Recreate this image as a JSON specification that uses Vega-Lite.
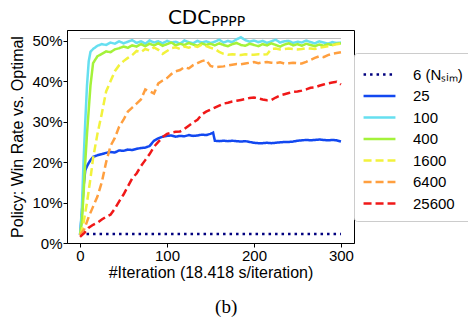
{
 "$schema": "https://vega.github.io/schema/vega-lite/v6.json",
 "autosize": {"type": "none"},
 "padding": {"left": 67, "top": 30, "right": 114, "bottom": 79},
 "width": 287,
 "height": 213,
 "background": "white",
 "config": {
  "view": {"stroke": "black", "strokeWidth": 1},
  "axis": {"grid": false, "labelFont": "Liberation Sans", "labelFontSize": 15, "labelColor": "black", "titleFont": "Liberation Sans", "titleFontSize": 16, "titleFontWeight": "normal", "titleColor": "black", "tickColor": "black", "domainColor": "black", "tickSize": 4, "labelPadding": 1},
  "legend": {"title": null, "orient": "none", "legendX": 287, "legendY": 23, "symbolType": "M-1.45,0H1.45", "symbolSize": 484, "symbolStrokeWidth": 2.5, "labelFont": "Liberation Sans", "labelFontSize": 15, "labelColor": "black", "labelOffset": 21, "symbolOffset": 4, "padding": 9, "rowPadding": 0.5, "strokeColor": "#cccccc", "fillColor": "white", "cornerRadius": 3}
 },
 "datasets": {
  "ref": [{"y": 50.6, "x0": 0, "x1": 300}],
  "ttl": [{"t": "CDC", "x": 101, "y": 54.2}],
  "sub": [{"t": "PPPP", "x": 151, "y": 53.8}],
  "cap": [{"t": "(b)", "x": 168, "y": -17.3}],
  "runs": [
   {"s":"6","i":0,"v":2.2},{"s":"6","i":50,"v":2.2},{"s":"6","i":100,"v":2.2},{"s":"6","i":150,"v":2.2},{"s":"6","i":200,"v":2.2},{"s":"6","i":250,"v":2.2},{"s":"6","i":300,"v":2.2},
   {"s":"25","i":0,"v":2},{"s":"25","i":2,"v":7},{"s":"25","i":4,"v":14},{"s":"25","i":6,"v":18},{"s":"25","i":8,"v":19},{"s":"25","i":10,"v":19.8},{"s":"25","i":12,"v":20.5},{"s":"25","i":15,"v":21.3},{"s":"25","i":20,"v":21.7},{"s":"25","i":25,"v":22},{"s":"25","i":30,"v":22.3},{"s":"25","i":35,"v":22.5},{"s":"25","i":40,"v":22.4},{"s":"25","i":45,"v":22.9},{"s":"25","i":50,"v":22.8},{"s":"25","i":55,"v":23.1},{"s":"25","i":60,"v":23},{"s":"25","i":65,"v":23.3},{"s":"25","i":70,"v":23.5},{"s":"25","i":75,"v":23.6},{"s":"25","i":80,"v":24},{"s":"25","i":85,"v":25.3},{"s":"25","i":90,"v":25.9},{"s":"25","i":95,"v":26.3},{"s":"25","i":100,"v":26.5},{"s":"25","i":105,"v":26.6},{"s":"25","i":110,"v":26.3},{"s":"25","i":115,"v":26.5},{"s":"25","i":120,"v":26.4},{"s":"25","i":125,"v":26.7},{"s":"25","i":130,"v":26.5},{"s":"25","i":135,"v":26.6},{"s":"25","i":140,"v":26.8},{"s":"25","i":145,"v":26.7},{"s":"25","i":150,"v":27},{"s":"25","i":153,"v":27.3},{"s":"25","i":155,"v":25.3},{"s":"25","i":160,"v":25.2},{"s":"25","i":165,"v":25.3},{"s":"25","i":170,"v":25.2},{"s":"25","i":175,"v":25.3},{"s":"25","i":180,"v":25.2},{"s":"25","i":185,"v":25.1},{"s":"25","i":190,"v":25.2},{"s":"25","i":195,"v":25},{"s":"25","i":200,"v":24.8},{"s":"25","i":205,"v":24.7},{"s":"25","i":210,"v":24.7},{"s":"25","i":215,"v":24.8},{"s":"25","i":220,"v":24.7},{"s":"25","i":225,"v":24.8},{"s":"25","i":230,"v":24.9},{"s":"25","i":235,"v":25},{"s":"25","i":240,"v":25},{"s":"25","i":245,"v":25.1},{"s":"25","i":250,"v":25.3},{"s":"25","i":255,"v":25.4},{"s":"25","i":260,"v":25.5},{"s":"25","i":265,"v":25.4},{"s":"25","i":270,"v":25.5},{"s":"25","i":275,"v":25.6},{"s":"25","i":280,"v":25.5},{"s":"25","i":285,"v":25.4},{"s":"25","i":290,"v":25.5},{"s":"25","i":295,"v":25.4},{"s":"25","i":300,"v":25.1},
   {"s":"100","i":0,"v":2},{"s":"100","i":2,"v":8},{"s":"100","i":4,"v":20},{"s":"100","i":6,"v":30},{"s":"100","i":8,"v":39},{"s":"100","i":10,"v":45},{"s":"100","i":12,"v":47.3},{"s":"100","i":15,"v":48},{"s":"100","i":20,"v":48.8},{"s":"100","i":25,"v":49.2},{"s":"100","i":30,"v":49},{"s":"100","i":35,"v":49.6},{"s":"100","i":40,"v":49.3},{"s":"100","i":45,"v":49.9},{"s":"100","i":50,"v":49.4},{"s":"100","i":55,"v":49.8},{"s":"100","i":60,"v":50.2},{"s":"100","i":65,"v":49.5},{"s":"100","i":70,"v":49.9},{"s":"100","i":75,"v":49.3},{"s":"100","i":80,"v":50.1},{"s":"100","i":85,"v":49.6},{"s":"100","i":90,"v":49.9},{"s":"100","i":95,"v":49.4},{"s":"100","i":100,"v":50},{"s":"100","i":105,"v":49.6},{"s":"100","i":110,"v":49.8},{"s":"100","i":115,"v":49.3},{"s":"100","i":120,"v":50.1},{"s":"100","i":125,"v":49.7},{"s":"100","i":130,"v":49.4},{"s":"100","i":135,"v":50},{"s":"100","i":140,"v":49.6},{"s":"100","i":145,"v":49.9},{"s":"100","i":150,"v":49.5},{"s":"100","i":155,"v":49.8},{"s":"100","i":160,"v":50.3},{"s":"100","i":165,"v":49.6},{"s":"100","i":170,"v":50},{"s":"100","i":175,"v":49.7},{"s":"100","i":180,"v":50.4},{"s":"100","i":185,"v":50.9},{"s":"100","i":190,"v":50.2},{"s":"100","i":195,"v":49.8},{"s":"100","i":200,"v":50.1},{"s":"100","i":205,"v":49.7},{"s":"100","i":210,"v":50},{"s":"100","i":215,"v":49.5},{"s":"100","i":220,"v":49.9},{"s":"100","i":225,"v":50.3},{"s":"100","i":230,"v":49.6},{"s":"100","i":235,"v":49.9},{"s":"100","i":240,"v":50},{"s":"100","i":245,"v":49.5},{"s":"100","i":250,"v":49.8},{"s":"100","i":255,"v":49.6},{"s":"100","i":260,"v":50.1},{"s":"100","i":265,"v":49.7},{"s":"100","i":270,"v":49.4},{"s":"100","i":275,"v":49.9},{"s":"100","i":280,"v":49.6},{"s":"100","i":285,"v":49.3},{"s":"100","i":290,"v":49.7},{"s":"100","i":295,"v":49.5},{"s":"100","i":300,"v":49.6},
   {"s":"400","i":0,"v":2},{"s":"400","i":2,"v":5},{"s":"400","i":4,"v":12},{"s":"400","i":6,"v":20},{"s":"400","i":8,"v":27},{"s":"400","i":10,"v":33},{"s":"400","i":12,"v":39},{"s":"400","i":15,"v":44.5},{"s":"400","i":20,"v":46.2},{"s":"400","i":25,"v":46.8},{"s":"400","i":30,"v":47.4},{"s":"400","i":35,"v":47.2},{"s":"400","i":40,"v":47.9},{"s":"400","i":45,"v":48.2},{"s":"400","i":50,"v":48.6},{"s":"400","i":55,"v":48.3},{"s":"400","i":60,"v":48.9},{"s":"400","i":65,"v":48.6},{"s":"400","i":70,"v":49.2},{"s":"400","i":75,"v":48.7},{"s":"400","i":80,"v":49.3},{"s":"400","i":85,"v":48.9},{"s":"400","i":90,"v":49.4},{"s":"400","i":95,"v":48.8},{"s":"400","i":100,"v":49.2},{"s":"400","i":105,"v":49.6},{"s":"400","i":110,"v":48.9},{"s":"400","i":115,"v":49.3},{"s":"400","i":120,"v":49},{"s":"400","i":125,"v":49.5},{"s":"400","i":130,"v":49.1},{"s":"400","i":135,"v":48.8},{"s":"400","i":140,"v":49.4},{"s":"400","i":145,"v":49},{"s":"400","i":150,"v":49.3},{"s":"400","i":155,"v":48.9},{"s":"400","i":160,"v":49.4},{"s":"400","i":165,"v":49},{"s":"400","i":170,"v":48.7},{"s":"400","i":175,"v":49.2},{"s":"400","i":180,"v":49.5},{"s":"400","i":185,"v":49},{"s":"400","i":190,"v":48.8},{"s":"400","i":195,"v":49.3},{"s":"400","i":200,"v":49},{"s":"400","i":205,"v":48.7},{"s":"400","i":210,"v":49.2},{"s":"400","i":215,"v":48.9},{"s":"400","i":220,"v":49.4},{"s":"400","i":225,"v":49},{"s":"400","i":230,"v":48.6},{"s":"400","i":235,"v":49.1},{"s":"400","i":240,"v":49.4},{"s":"400","i":245,"v":48.9},{"s":"400","i":250,"v":49.2},{"s":"400","i":255,"v":48.8},{"s":"400","i":260,"v":49.3},{"s":"400","i":265,"v":49},{"s":"400","i":270,"v":48.7},{"s":"400","i":275,"v":49.1},{"s":"400","i":280,"v":48.8},{"s":"400","i":285,"v":49.2},{"s":"400","i":290,"v":49},{"s":"400","i":295,"v":49.3},{"s":"400","i":300,"v":49.4},
   {"s":"1600","i":0,"v":2},{"s":"1600","i":2,"v":3},{"s":"1600","i":4,"v":5},{"s":"1600","i":6,"v":7.5},{"s":"1600","i":8,"v":10},{"s":"1600","i":10,"v":13},{"s":"1600","i":12,"v":16},{"s":"1600","i":15,"v":21},{"s":"1600","i":20,"v":27},{"s":"1600","i":25,"v":32},{"s":"1600","i":30,"v":37.5},{"s":"1600","i":35,"v":40},{"s":"1600","i":40,"v":42.5},{"s":"1600","i":45,"v":44},{"s":"1600","i":50,"v":45},{"s":"1600","i":55,"v":45.8},{"s":"1600","i":60,"v":46.5},{"s":"1600","i":65,"v":47.5},{"s":"1600","i":70,"v":47.2},{"s":"1600","i":75,"v":48},{"s":"1600","i":80,"v":47.6},{"s":"1600","i":85,"v":48.4},{"s":"1600","i":90,"v":47.8},{"s":"1600","i":95,"v":46.8},{"s":"1600","i":100,"v":47.5},{"s":"1600","i":105,"v":48.2},{"s":"1600","i":110,"v":48.4},{"s":"1600","i":115,"v":48},{"s":"1600","i":120,"v":48.6},{"s":"1600","i":125,"v":48.3},{"s":"1600","i":130,"v":48.8},{"s":"1600","i":135,"v":48.5},{"s":"1600","i":140,"v":49.1},{"s":"1600","i":145,"v":48.7},{"s":"1600","i":150,"v":48.3},{"s":"1600","i":155,"v":48},{"s":"1600","i":160,"v":47.3},{"s":"1600","i":165,"v":46.8},{"s":"1600","i":170,"v":46.6},{"s":"1600","i":175,"v":46.7},{"s":"1600","i":180,"v":46.6},{"s":"1600","i":185,"v":46.5},{"s":"1600","i":190,"v":46.7},{"s":"1600","i":195,"v":46.6},{"s":"1600","i":200,"v":46.6},{"s":"1600","i":205,"v":46.7},{"s":"1600","i":210,"v":46.6},{"s":"1600","i":215,"v":46.7},{"s":"1600","i":220,"v":48},{"s":"1600","i":225,"v":48.1},{"s":"1600","i":230,"v":47.9},{"s":"1600","i":235,"v":48},{"s":"1600","i":240,"v":48.1},{"s":"1600","i":245,"v":48},{"s":"1600","i":250,"v":47.9},{"s":"1600","i":255,"v":48},{"s":"1600","i":260,"v":48.2},{"s":"1600","i":265,"v":48.1},{"s":"1600","i":270,"v":48},{"s":"1600","i":275,"v":48.3},{"s":"1600","i":280,"v":48.5},{"s":"1600","i":285,"v":48.7},{"s":"1600","i":290,"v":48.9},{"s":"1600","i":295,"v":49.2},{"s":"1600","i":300,"v":49.3},
   {"s":"6400","i":0,"v":2},{"s":"6400","i":5,"v":3.5},{"s":"6400","i":10,"v":6.5},{"s":"6400","i":15,"v":9},{"s":"6400","i":20,"v":11.5},{"s":"6400","i":25,"v":15},{"s":"6400","i":30,"v":20},{"s":"6400","i":35,"v":24},{"s":"6400","i":40,"v":26},{"s":"6400","i":45,"v":28.8},{"s":"6400","i":50,"v":30.5},{"s":"6400","i":55,"v":32.5},{"s":"6400","i":60,"v":33.5},{"s":"6400","i":65,"v":34.5},{"s":"6400","i":70,"v":35.5},{"s":"6400","i":75,"v":38},{"s":"6400","i":80,"v":37.5},{"s":"6400","i":85,"v":37},{"s":"6400","i":90,"v":39.5},{"s":"6400","i":95,"v":40.2},{"s":"6400","i":100,"v":40.8},{"s":"6400","i":105,"v":41.8},{"s":"6400","i":110,"v":42.5},{"s":"6400","i":115,"v":42.8},{"s":"6400","i":120,"v":43.5},{"s":"6400","i":125,"v":43.2},{"s":"6400","i":130,"v":44},{"s":"6400","i":135,"v":44.5},{"s":"6400","i":140,"v":45},{"s":"6400","i":145,"v":45.3},{"s":"6400","i":150,"v":43.8},{"s":"6400","i":155,"v":43.5},{"s":"6400","i":160,"v":43.6},{"s":"6400","i":165,"v":43.7},{"s":"6400","i":170,"v":43.9},{"s":"6400","i":175,"v":44.1},{"s":"6400","i":180,"v":44.3},{"s":"6400","i":185,"v":44.2},{"s":"6400","i":190,"v":44.4},{"s":"6400","i":195,"v":44.6},{"s":"6400","i":200,"v":44.8},{"s":"6400","i":205,"v":44.5},{"s":"6400","i":210,"v":44.7},{"s":"6400","i":215,"v":44.8},{"s":"6400","i":220,"v":44.6},{"s":"6400","i":225,"v":44.5},{"s":"6400","i":230,"v":44.7},{"s":"6400","i":235,"v":44.4},{"s":"6400","i":240,"v":44.5},{"s":"6400","i":245,"v":44.6},{"s":"6400","i":250,"v":44.5},{"s":"6400","i":255,"v":44.4},{"s":"6400","i":260,"v":44.8},{"s":"6400","i":265,"v":45.3},{"s":"6400","i":270,"v":45.8},{"s":"6400","i":275,"v":46.2},{"s":"6400","i":280,"v":46},{"s":"6400","i":285,"v":46.5},{"s":"6400","i":290,"v":46.8},{"s":"6400","i":295,"v":47},{"s":"6400","i":300,"v":47.2},
   {"s":"25600","i":0,"v":1.5},{"s":"25600","i":5,"v":2.5},{"s":"25600","i":10,"v":3.8},{"s":"25600","i":15,"v":4.5},{"s":"25600","i":20,"v":5},{"s":"25600","i":25,"v":5.8},{"s":"25600","i":30,"v":6.5},{"s":"25600","i":35,"v":7},{"s":"25600","i":40,"v":8.5},{"s":"25600","i":45,"v":10.3},{"s":"25600","i":50,"v":12},{"s":"25600","i":55,"v":14},{"s":"25600","i":60,"v":16},{"s":"25600","i":65,"v":17.2},{"s":"25600","i":70,"v":19},{"s":"25600","i":75,"v":20.5},{"s":"25600","i":80,"v":22},{"s":"25600","i":85,"v":23.8},{"s":"25600","i":90,"v":25},{"s":"25600","i":95,"v":26.2},{"s":"25600","i":100,"v":27},{"s":"25600","i":105,"v":27.3},{"s":"25600","i":110,"v":27.5},{"s":"25600","i":115,"v":27.6},{"s":"25600","i":120,"v":28.2},{"s":"25600","i":125,"v":29},{"s":"25600","i":130,"v":29.8},{"s":"25600","i":135,"v":30.5},{"s":"25600","i":140,"v":31.8},{"s":"25600","i":145,"v":32.5},{"s":"25600","i":150,"v":33},{"s":"25600","i":155,"v":33.5},{"s":"25600","i":160,"v":34},{"s":"25600","i":165,"v":34.5},{"s":"25600","i":170,"v":34.7},{"s":"25600","i":175,"v":35},{"s":"25600","i":180,"v":35.2},{"s":"25600","i":185,"v":35.4},{"s":"25600","i":190,"v":35.6},{"s":"25600","i":195,"v":35.9},{"s":"25600","i":200,"v":36},{"s":"25600","i":205,"v":35.8},{"s":"25600","i":210,"v":35.5},{"s":"25600","i":215,"v":35.3},{"s":"25600","i":220,"v":35.4},{"s":"25600","i":225,"v":36},{"s":"25600","i":230,"v":36.5},{"s":"25600","i":235,"v":36.8},{"s":"25600","i":240,"v":37.1},{"s":"25600","i":245,"v":37.4},{"s":"25600","i":250,"v":37.5},{"s":"25600","i":255,"v":37.7},{"s":"25600","i":260,"v":38},{"s":"25600","i":265,"v":38.4},{"s":"25600","i":270,"v":38.5},{"s":"25600","i":275,"v":38.9},{"s":"25600","i":280,"v":39.2},{"s":"25600","i":285,"v":39.5},{"s":"25600","i":290,"v":39.7},{"s":"25600","i":295,"v":39.9},{"s":"25600","i":300,"v":39.2}
  ]
 },
 "layer": [
  {
   "data": {"name": "ref"},
   "mark": {"type": "rule", "color": "#bdbdbd", "strokeWidth": 1.2},
   "encoding": {
    "x": {"field": "x0", "type": "quantitative", "scale": {"domain": [-15, 315], "nice": false, "zero": false}, "axis": {"values": [0, 100, 200, 300], "title": "#Iteration (18.418 s/iteration)", "titlePadding": 1}},
    "x2": {"field": "x1"},
    "y": {"field": "y", "type": "quantitative", "scale": {"domain": [0, 52.7], "nice": false}, "axis": {"values": [0, 10, 20, 30, 40, 50], "labelExpr": "datum.value + '%'", "title": "Policy: Win Rate vs. Optimal", "titlePadding": 6}}
   }
  },
  {
   "data": {"name": "runs"},
   "mark": {"type": "line", "strokeWidth": 2.5},
   "encoding": {
    "x": {"field": "i", "type": "quantitative"},
    "y": {"field": "v", "type": "quantitative"},
    "color": {"field": "s", "type": "nominal", "scale": {"domain": ["6", "25", "100", "400", "1600", "6400", "25600"], "range": ["#00007f", "#1248f0", "#66dff0", "#a4f23a", "#f2f23c", "#ff9f3f", "#f01818"]}, "legend": {"labelExpr": "datum.label == '6' ? '6 (Nₛᵢₘ)' : datum.label"}},
    "strokeDash": {"field": "s", "type": "nominal", "scale": {"domain": ["6", "25", "100", "400", "1600", "6400", "25600"], "range": [[2.5, 4], [1, 0], [1, 0], [1, 0], [8, 4], [8, 4], [8, 4]]}, "legend": {"labelExpr": "datum.label == '6' ? '6 (Nₛᵢₘ)' : datum.label"}}
   }
  },
  {
   "data": {"name": "ttl"},
   "mark": {"type": "text", "font": "DejaVu Sans", "fontSize": 20, "align": "left", "baseline": "alphabetic", "color": "black"},
   "encoding": {
    "x": {"field": "x", "type": "quantitative"},
    "y": {"field": "y", "type": "quantitative"},
    "text": {"field": "t"}
   }
  },
  {
   "data": {"name": "sub"},
   "mark": {"type": "text", "font": "DejaVu Sans", "fontSize": 14, "align": "left", "baseline": "alphabetic", "color": "black"},
   "encoding": {
    "x": {"field": "x", "type": "quantitative"},
    "y": {"field": "y", "type": "quantitative"},
    "text": {"field": "t"}
   }
  },
  {
   "data": {"name": "cap"},
   "mark": {"type": "text", "font": "Liberation Serif", "fontSize": 19, "align": "center", "baseline": "alphabetic", "color": "black"},
   "encoding": {
    "x": {"field": "x", "type": "quantitative"},
    "y": {"field": "y", "type": "quantitative"},
    "text": {"field": "t"}
   }
  }
 ]
}
